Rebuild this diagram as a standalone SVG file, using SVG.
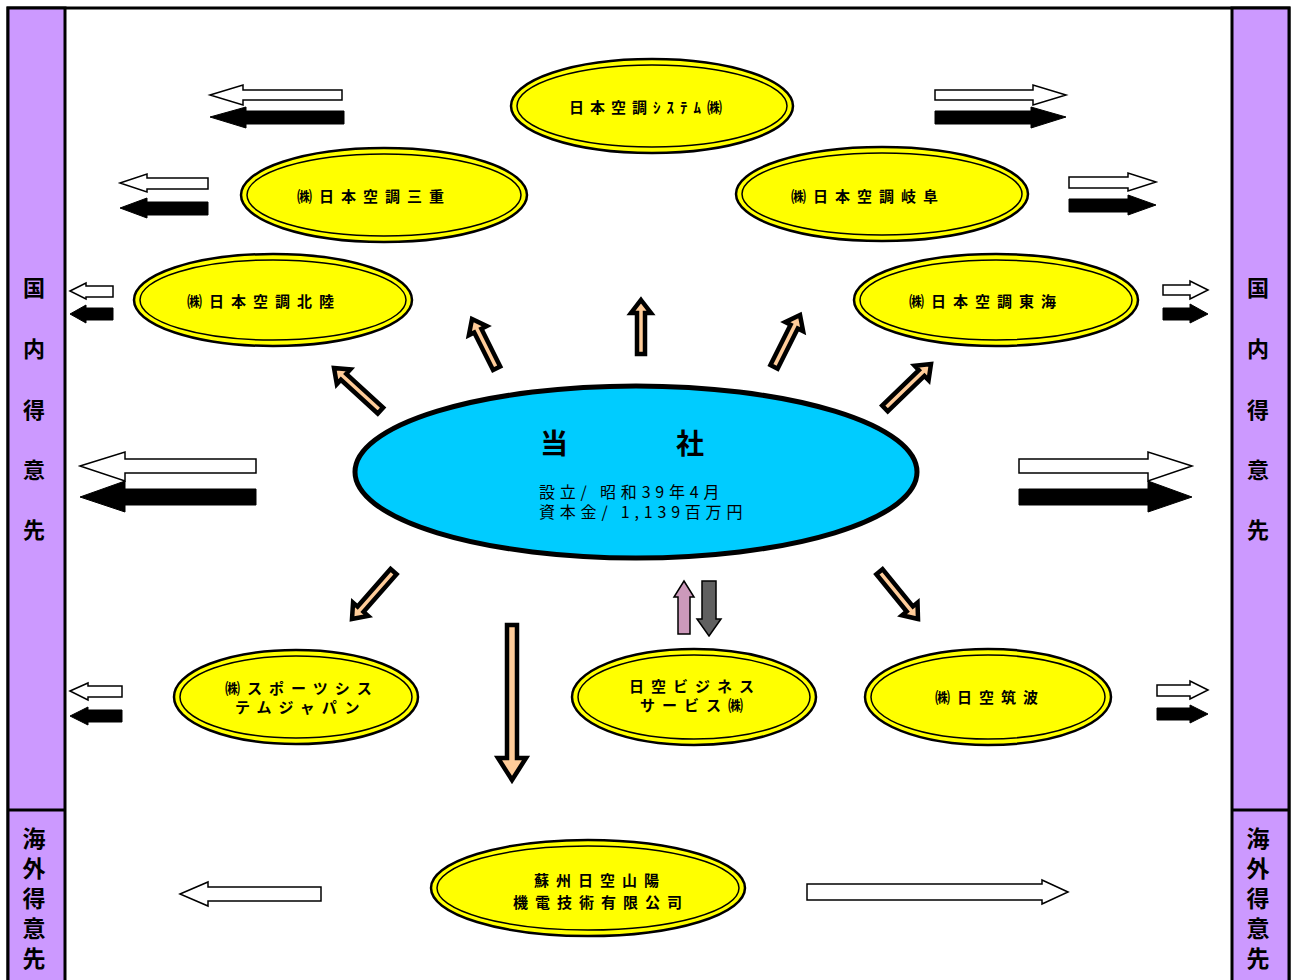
<svg xmlns="http://www.w3.org/2000/svg" width="1291" height="980" viewBox="0 0 1291 980">
<style>
.strip{fill:#CC99FF;stroke:#000;stroke-width:3}
.frame{fill:#fff;stroke:#000;stroke-width:3}
.oval{fill:#FFFF00;stroke:#000;stroke-width:2.5}
.inner{fill:none;stroke:#000;stroke-width:1.5}
.lbl{font-family:"Noto Sans CJK JP","Noto Sans CJK SC",sans-serif;font-weight:bold;font-size:15px;letter-spacing:7px;fill:#000}
.side{font-family:"Noto Sans CJK JP","Noto Sans CJK SC",sans-serif;font-weight:bold;font-size:22px;fill:#000;text-anchor:middle}
.side2{font-family:"Noto Sans CJK JP","Noto Sans CJK SC",sans-serif;font-weight:bold;font-size:23px;fill:#000;text-anchor:middle}
.wa{fill:#fff;stroke:#000;stroke-width:1.5;stroke-linejoin:miter}
.ba{fill:#000;stroke:#000;stroke-width:1}
.be{fill:#FFCC99;stroke:#000;stroke-width:4.5;stroke-linejoin:miter}
.ctr{font-family:"Noto Sans CJK JP","Noto Sans CJK SC",sans-serif;font-size:16px;letter-spacing:4.8px;fill:#000}
.big{font-family:"Noto Sans CJK JP","Noto Sans CJK SC",sans-serif;font-weight:bold;font-size:28px;fill:#000}
</style>
<rect x="0" y="0" width="1291" height="980" fill="#fff"/>
<g id="frame">
<rect class="frame" x="8" y="8" width="1281" height="990"/>
<rect class="strip" x="8" y="8" width="57" height="990"/>
<rect class="strip" x="1232" y="8" width="57" height="990"/>
<line x1="8" y1="810" x2="65" y2="810" stroke="#000" stroke-width="3"/>
<line x1="1232" y1="810" x2="1289" y2="810" stroke="#000" stroke-width="3"/>
</g>
<g id="left-domestic">
<text class="side" x="34" y="296">国</text>
<text class="side" x="34" y="357">内</text>
<text class="side" x="34" y="418">得</text>
<text class="side" x="34" y="478">意</text>
<text class="side" x="34" y="538">先</text>
</g>
<g id="right-domestic">
<text class="side" x="1258" y="296">国</text>
<text class="side" x="1258" y="357">内</text>
<text class="side" x="1258" y="418">得</text>
<text class="side" x="1258" y="478">意</text>
<text class="side" x="1258" y="538">先</text>
</g>
<g id="left-overseas">
<text class="side2" x="34" y="847">海</text>
<text class="side2" x="34" y="877">外</text>
<text class="side2" x="34" y="907">得</text>
<text class="side2" x="34" y="937">意</text>
<text class="side2" x="34" y="967">先</text>
</g>
<g id="right-overseas">
<text class="side2" x="1258" y="847">海</text>
<text class="side2" x="1258" y="877">外</text>
<text class="side2" x="1258" y="907">得</text>
<text class="side2" x="1258" y="937">意</text>
<text class="side2" x="1258" y="967">先</text>
</g>
<g id="connectors">
<polygon class="wa" points="210,95 243,85 243,90 342,90 342,100 243,100 243,105"/>
<polygon class="ba" points="210,117 246,107 246,111 344,111 344,124 246,124 246,128"/>
<polygon class="wa" points="120,183 147,174 147,178 208,178 208,189 147,189 147,192"/>
<polygon class="ba" points="120,208 147,198 147,202 208,202 208,215 147,215 147,218"/>
<polygon class="wa" points="70,291 86,283 86,286 113,286 113,297 86,297 86,299"/>
<polygon class="ba" points="70,314 86,305 86,308 113,308 113,320 86,320 86,323"/>
<polygon class="wa" points="80,466 125,452 125,459 256,459 256,473 125,473 125,481"/>
<polygon class="ba" points="80,497 125,481 125,489 256,489 256,505 125,505 125,512"/>
<polygon class="wa" points="70,691 88,683 88,686 122,686 122,697 88,697 88,700"/>
<polygon class="ba" points="70,716 88,707 88,710 122,710 122,722 88,722 88,725"/>
<polygon class="wa" points="180,894 208,882 208,887 321,887 321,901 208,901 208,906"/>
<polygon class="wa" points="1066,95 1033,85 1033,90 935,90 935,100 1033,100 1033,105"/>
<polygon class="ba" points="1066,117 1031,107 1031,111 935,111 935,124 1031,124 1031,128"/>
<polygon class="wa" points="1156,182 1128,173 1128,177 1069,177 1069,188 1128,188 1128,191"/>
<polygon class="ba" points="1156,205 1128,195 1128,199 1069,199 1069,212 1128,212 1128,215"/>
<polygon class="wa" points="1208,290 1190,281 1190,285 1163,285 1163,295 1190,295 1190,299"/>
<polygon class="ba" points="1208,314 1190,304 1190,308 1163,308 1163,320 1190,320 1190,323"/>
<polygon class="wa" points="1192,466 1148,452 1148,459 1019,459 1019,473 1148,473 1148,481"/>
<polygon class="ba" points="1192,497 1148,481 1148,489 1019,489 1019,505 1148,505 1148,512"/>
<polygon class="wa" points="1208,690 1190,681 1190,685 1157,685 1157,696 1190,696 1190,699"/>
<polygon class="ba" points="1208,714 1190,705 1190,708 1157,708 1157,720 1190,720 1190,723"/>
<polygon class="wa" points="1068,892 1042,880 1042,884 807,884 807,900 1042,900 1042,904"/>
<path class="be" transform="translate(334,368) rotate(-47.5)" d="M0,0 L10,13 L4,13 L4,63 L-4,63 L-4,13 L-10,13 Z"/>
<path class="be" transform="translate(472,319) rotate(-26.6)" d="M0,0 L10,13 L4,13 L4,55 L-4,55 L-4,13 L-10,13 Z"/>
<path class="be" transform="translate(641,300) rotate(0)" d="M0,0 L10,13 L4,13 L4,54 L-4,54 L-4,13 L-10,13 Z"/>
<path class="be" transform="translate(800,315) rotate(26.6)" d="M0,0 L10,13 L4,13 L4,58 L-4,58 L-4,13 L-10,13 Z"/>
<path class="be" transform="translate(931,364) rotate(46)" d="M0,0 L10,13 L4,13 L4,64 L-4,64 L-4,13 L-10,13 Z"/>
<path class="be" transform="translate(352,619) rotate(-138.7)" d="M0,0 L10,13 L4,13 L4,63 L-4,63 L-4,13 L-10,13 Z"/>
<path class="be" transform="translate(918,619) rotate(140.8)" d="M0,0 L10,13 L4,13 L4,61 L-4,61 L-4,13 L-10,13 Z"/>
<path class="be" transform="translate(512,780) rotate(180)" d="M0,0 L14,22 L5,22 L5,155 L-5,155 L-5,22 L-14,22 Z"/>
<polygon fill="#CC99BB" stroke="#000" stroke-width="1.5" points="684,581 694,597 690,597 690,634 678,634 678,597 674,597"/>
<polygon fill="#606060" stroke="#000" stroke-width="1.5" points="709,636 721,619 716,619 716,581 702,581 702,619 697,619"/>
</g>
<g id="center">
<ellipse cx="636" cy="472" rx="281" ry="86" fill="#00CCFF" stroke="#000" stroke-width="5"/>
<text class="big" x="540" y="454">当</text>
<text class="big" x="676" y="454">社</text>
<text class="ctr" x="539" y="498">設立/ 昭和39年4月</text>
<text class="ctr" x="539" y="518">資本金/ 1,139百万円</text>
</g>
<g id="n-system">
<ellipse class="oval" cx="652" cy="106" rx="141" ry="47"/>
<ellipse class="inner" cx="652" cy="106" rx="135" ry="41"/>
<text class="lbl" x="569" y="113" style="letter-spacing:6px">日本空調ｼｽﾃﾑ㈱</text>
</g>
<g id="n-mie">
<ellipse class="oval" cx="384" cy="195" rx="143" ry="47"/>
<ellipse class="inner" cx="384" cy="195" rx="137" ry="41"/>
<text class="lbl" x="297" y="202">㈱日本空調三重</text>
</g>
<g id="n-gifu">
<ellipse class="oval" cx="882" cy="194" rx="146" ry="47"/>
<ellipse class="inner" cx="882" cy="194" rx="140" ry="41"/>
<text class="lbl" x="791" y="202">㈱日本空調岐阜</text>
</g>
<g id="n-hokuriku">
<ellipse class="oval" cx="273" cy="300" rx="139" ry="46"/>
<ellipse class="inner" cx="273" cy="300" rx="133" ry="40"/>
<text class="lbl" x="187" y="307">㈱日本空調北陸</text>
</g>
<g id="n-tokai">
<ellipse class="oval" cx="996" cy="300" rx="142" ry="46"/>
<ellipse class="inner" cx="996" cy="300" rx="136" ry="40"/>
<text class="lbl" x="909" y="307">㈱日本空調東海</text>
</g>
<g id="n-sports">
<ellipse class="oval" cx="296" cy="697" rx="122" ry="47"/>
<ellipse class="inner" cx="296" cy="697" rx="116" ry="41"/>
<text class="lbl" x="225" y="694">㈱スポーツシス</text>
<text class="lbl" x="235" y="713">テムジャパン</text>
</g>
<g id="n-business">
<ellipse class="oval" cx="694" cy="697" rx="122" ry="48"/>
<ellipse class="inner" cx="694" cy="697" rx="116" ry="42"/>
<text class="lbl" x="629" y="692">日空ビジネス</text>
<text class="lbl" x="640" y="711">サービス㈱</text>
</g>
<g id="n-tsukuba">
<ellipse class="oval" cx="988" cy="697" rx="123" ry="48"/>
<ellipse class="inner" cx="988" cy="697" rx="117" ry="42"/>
<text class="lbl" x="935" y="703">㈱日空筑波</text>
</g>
<g id="n-suzhou">
<ellipse class="oval" cx="588" cy="888" rx="157" ry="48"/>
<ellipse class="inner" cx="588" cy="888" rx="151" ry="42"/>
<text class="lbl" x="534" y="886">蘇州日空山陽</text>
<text class="lbl" x="513" y="908">機電技術有限公司</text>
</g>
</svg>
